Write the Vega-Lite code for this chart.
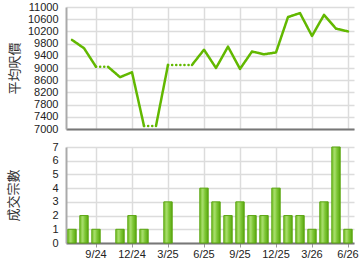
{
  "$schema": "https://vega.github.io/schema/vega-lite/v6.json",
  "background": "white",
  "padding": {"left": 7, "top": 1, "right": 2, "bottom": 2},
  "spacing": 7,
  "config": {
    "view": {"stroke": null},
    "axis": {
      "labelFont": "Liberation Sans",
      "labelFontSize": 11,
      "labelColor": "#222",
      "titleFont": "Noto Sans CJK TC",
      "titleFontSize": 13,
      "titleFontWeight": "normal",
      "titleColor": "#333",
      "gridColor": "#dcdcdc",
      "gridWidth": 1.5
    }
  },
  "datasets": {
    "price": [
      {"month": "2024-07", "price": 9920, "seg": "s1", "style": "solid"},
      {"month": "2024-08", "price": 9650, "seg": "s1", "style": "solid"},
      {"month": "2024-09", "price": 9040, "seg": "s1", "style": "solid"},
      {"month": "2024-09", "price": 9040, "seg": "s2", "style": "dotted"},
      {"month": "2024-10", "price": 9040, "seg": "s2", "style": "dotted"},
      {"month": "2024-10", "price": 9040, "seg": "s3", "style": "solid"},
      {"month": "2024-11", "price": 8700, "seg": "s3", "style": "solid"},
      {"month": "2024-12", "price": 8860, "seg": "s3", "style": "solid"},
      {"month": "2025-01", "price": 7100, "seg": "s3", "style": "solid"},
      {"month": "2025-01", "price": 7100, "seg": "s4", "style": "dotted"},
      {"month": "2025-02", "price": 7100, "seg": "s4", "style": "dotted"},
      {"month": "2025-02", "price": 7100, "seg": "s5", "style": "solid"},
      {"month": "2025-03", "price": 9100, "seg": "s5", "style": "solid"},
      {"month": "2025-03", "price": 9100, "seg": "s6", "style": "dotted"},
      {"month": "2025-04", "price": 9100, "seg": "s6", "style": "dotted"},
      {"month": "2025-05", "price": 9100, "seg": "s6", "style": "dotted"},
      {"month": "2025-05", "price": 9100, "seg": "s7", "style": "solid"},
      {"month": "2025-06", "price": 9600, "seg": "s7", "style": "solid"},
      {"month": "2025-07", "price": 9000, "seg": "s7", "style": "solid"},
      {"month": "2025-08", "price": 9700, "seg": "s7", "style": "solid"},
      {"month": "2025-09", "price": 8970, "seg": "s7", "style": "solid"},
      {"month": "2025-10", "price": 9540, "seg": "s7", "style": "solid"},
      {"month": "2025-11", "price": 9450, "seg": "s7", "style": "solid"},
      {"month": "2025-12", "price": 9510, "seg": "s7", "style": "solid"},
      {"month": "2026-01", "price": 10670, "seg": "s7", "style": "solid"},
      {"month": "2026-02", "price": 10800, "seg": "s7", "style": "solid"},
      {"month": "2026-03", "price": 10050, "seg": "s7", "style": "solid"},
      {"month": "2026-04", "price": 10740, "seg": "s7", "style": "solid"},
      {"month": "2026-05", "price": 10290, "seg": "s7", "style": "solid"},
      {"month": "2026-06", "price": 10200, "seg": "s7", "style": "solid"}
    ],
    "deals": [
      {"month": "2024-07", "count": 1},
      {"month": "2024-08", "count": 2},
      {"month": "2024-09", "count": 1},
      {"month": "2024-11", "count": 1},
      {"month": "2024-12", "count": 2},
      {"month": "2025-01", "count": 1},
      {"month": "2025-03", "count": 3},
      {"month": "2025-06", "count": 4},
      {"month": "2025-07", "count": 3},
      {"month": "2025-08", "count": 2},
      {"month": "2025-09", "count": 3},
      {"month": "2025-10", "count": 2},
      {"month": "2025-11", "count": 2},
      {"month": "2025-12", "count": 4},
      {"month": "2026-01", "count": 2},
      {"month": "2026-02", "count": 2},
      {"month": "2026-03", "count": 1},
      {"month": "2026-04", "count": 3},
      {"month": "2026-05", "count": 7},
      {"month": "2026-06", "count": 1}
    ]
  },
  "vconcat": [
    {
      "width": 288,
      "height": 122,
      "data": {"name": "price"},
      "mark": {"type": "line", "color": "#62b800", "strokeWidth": 2.5, "strokeCap": "round", "strokeJoin": "round"},
      "encoding": {
        "x": {
          "field": "month", "type": "ordinal",
          "scale": {"type": "band", "paddingInner": 0.3, "paddingOuter": 0.15,
            "domain": ["2024-07","2024-08","2024-09","2024-10","2024-11","2024-12","2025-01","2025-02","2025-03","2025-04","2025-05","2025-06","2025-07","2025-08","2025-09","2025-10","2025-11","2025-12","2026-01","2026-02","2026-03","2026-04","2026-05","2026-06"]},
          "axis": {
            "title": null, "labels": false, "ticks": false, "grid": true, "bandPosition": 0.5,
            "values": ["2024-09","2024-12","2025-03","2025-06","2025-09","2025-12","2026-03","2026-06"],
            "domainColor": "#777", "domainWidth": 2
          }
        },
        "y": {
          "field": "price", "type": "quantitative",
          "scale": {"domain": [7000, 11000], "nice": false, "zero": false},
          "axis": {
            "title": "平均呎價", "values": [7000,7400,7800,8200,8600,9000,9400,9800,10200,10600,11000],
            "format": "d",
            "ticks": false, "labelPadding": 8, "titlePadding": 6,
            "domainColor": "#aaa", "domainWidth": 2
          }
        },
        "detail": {"field": "seg"},
        "strokeDash": {
          "field": "style", "type": "nominal",
          "scale": {"domain": ["solid", "dotted"], "range": [[1, 0], [0.1, 4]]},
          "legend": null
        }
      }
    },
    {
      "width": 288,
      "height": 96,
      "data": {"name": "deals"},
      "mark": {
        "type": "bar",
        "stroke": "#5aa511",
        "strokeWidth": 1,
        "color": {
          "gradient": "linear", "x1": 0, "x2": 1, "y1": 0, "y2": 0,
          "stops": [
            {"offset": 0, "color": "#78c22c"},
            {"offset": 0.35, "color": "#a8de6c"},
            {"offset": 0.6, "color": "#80c838"},
            {"offset": 1, "color": "#5aa80f"}
          ]
        }
      },
      "encoding": {
        "x": {
          "field": "month", "type": "ordinal",
          "scale": {"type": "band", "paddingInner": 0.3, "paddingOuter": 0.15,
            "domain": ["2024-07","2024-08","2024-09","2024-10","2024-11","2024-12","2025-01","2025-02","2025-03","2025-04","2025-05","2025-06","2025-07","2025-08","2025-09","2025-10","2025-11","2025-12","2026-01","2026-02","2026-03","2026-04","2026-05","2026-06"]},
          "axis": {
            "title": null, "grid": true, "bandPosition": 0.5, "labelAngle": 0,
            "values": ["2024-09","2024-12","2025-03","2025-06","2025-09","2025-12","2026-03","2026-06"],
            "labelExpr": "toNumber(slice(datum.value, 5)) + '/' + slice(datum.value, 2, 4)",
            "tickSize": 4, "tickColor": "#999", "labelPadding": 1,
            "domainColor": "#777", "domainWidth": 2
          }
        },
        "y": {
          "field": "count", "type": "quantitative",
          "scale": {"domain": [0, 7], "nice": false},
          "axis": {
            "title": "成交宗數", "values": [0,1,2,3,4,5,6,7],
            "ticks": false, "labelPadding": 8, "titlePadding": 31,
            "domainColor": "#aaa", "domainWidth": 2
          }
        }
      }
    }
  ]
}
